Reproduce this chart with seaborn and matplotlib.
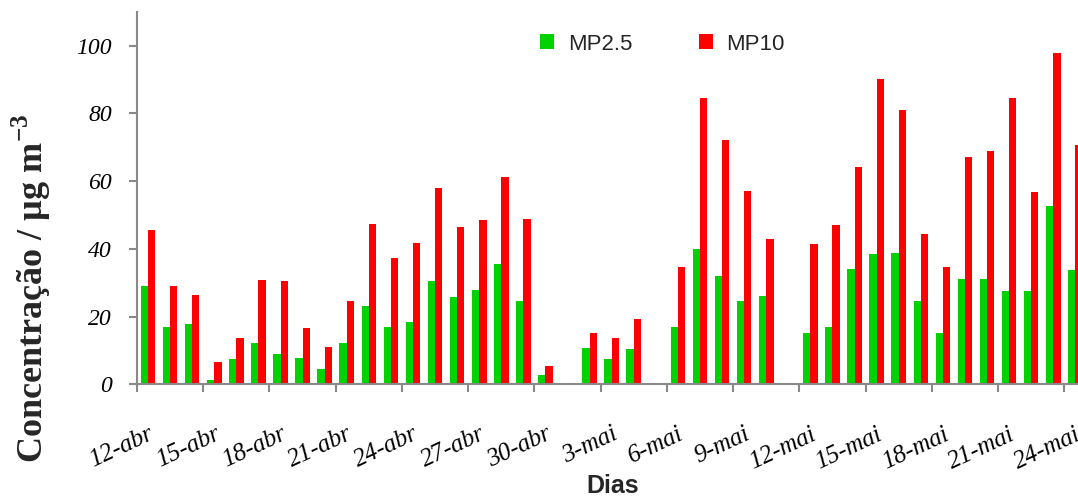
import numpy as np
import pandas as pd
import matplotlib
matplotlib.use("Agg")
import matplotlib.pyplot as plt
import seaborn as sns
from matplotlib.ticker import FixedLocator

# Days of the campaign (12 April to 24 May)
dias = [f"{d}-abr" for d in range(12, 31)] + [f"{d}-mai" for d in range(1, 25)]

nan = np.nan
# Daily particulate matter concentrations (µg m-3); NaN = no sample
mp25 = [29.0, 16.8, 17.8, 1.3, 7.5, 12.2, 9.0, 7.7, 4.4,
        12.1, 23.0, 16.8, 18.5, 30.5, 25.7, 27.8, 35.4, 24.7, 2.8,
        nan, 10.6, 7.5, 10.5, nan,
        16.9, 39.9, 32.0, 24.6, 26.0, nan,
        15.2, 16.8, 34.0, 38.4, 38.7, 24.6, 15.2, 31.0, 31.1, 27.6, 27.6, 52.7, 33.7]
mp10 = [45.6, 28.9, 26.4, 6.7, 13.7, 30.8, 30.5, 16.7, 11.0,
        24.7, 47.2, 37.3, 41.8, 58.1, 46.4, 48.6, 61.1, 48.7, 5.3,
        nan, 15.2, 13.7, 19.3, nan,
        34.7, 84.5, 72.1, 57.0, 42.8, nan,
        41.4, 47.0, 64.1, 90.1, 81.1, 44.5, 34.6, 67.2, 68.9, 84.5, 56.7, 97.9, 70.6]
series = ["MP2.5", "MP10"]
cores = {"MP2.5": "#00D200", "MP10": "#FF0000"}
y_ticks = [0, 20, 40, 60, 80, 100]

df = pd.DataFrame({
    "dia": dias * 2,
    "serie": [series[0]] * len(dias) + [series[1]] * len(dias),
    "valor": mp25 + mp10,
})

sns.set_theme(style="white")
plt.rcParams["font.family"] = ["Liberation Sans", "DejaVu Sans"]
plt.rcParams["mathtext.fontset"] = "custom"
plt.rcParams["mathtext.rm"] = "Liberation Serif:bold"
plt.rcParams["mathtext.bf"] = "Liberation Serif:bold"

fig = plt.figure(figsize=(10.78, 4.99), dpi=100)
ax = fig.add_axes([137 / 1078, 0.2299, 949.4 / 1078, 0.7465])

sns.barplot(data=df, x="dia", y="valor", hue="serie", order=dias,
            hue_order=series, palette=cores, width=0.66, errorbar=None,
            saturation=1, linewidth=0, ax=ax)

ax.set_xlim(-0.5, len(dias) - 0.5)
ax.set_ylim(0, 110)

axis_gray = "#898989"
for side in ["top", "right"]:
    ax.spines[side].set_visible(False)
for side in ["left", "bottom"]:
    ax.spines[side].set_color(axis_gray)
    ax.spines[side].set_linewidth(1.5)

# y axis
ax.set_yticks(y_ticks)
ax.set_yticklabels([str(v) for v in y_ticks], fontfamily="Liberation Serif",
                   fontstyle="italic", fontsize=17, color="black")
ax.tick_params(axis="y", left=True, length=6, width=1.5, color=axis_gray, pad=12)

# x axis: labels every third day, tick marks between categories
label_pos = list(range(0, len(dias), 3))
ax.set_xticks(label_pos)
ax.set_xticklabels([dias[i] for i in label_pos], fontfamily="Liberation Serif",
                   fontstyle="italic", fontsize=18, rotation=25,
                   ha="right", va="top", rotation_mode="anchor", color="black")
ax.tick_params(axis="x", which="major", length=0, pad=28)
ax.xaxis.set_minor_locator(FixedLocator([p - 0.5 for p in label_pos]))
ax.tick_params(axis="x", which="minor", bottom=True, length=6, width=1.5,
               color=axis_gray)

ax.set_xlabel("")
ax.set_ylabel("")

fig.text(613 / 1078, 1 - 486 / 499, "Dias", ha="center", va="center",
         fontsize=18, fontweight="bold", family="Liberation Sans")
fig.text(31 / 1078, 1 - 288 / 499, r"Concentração / µg m$^{-3}$",
         rotation=90, ha="center", va="center", fontsize=26,
         fontweight="bold", family="Liberation Serif")

handles, labels = ax.get_legend_handles_labels()
ax.legend(handles, labels, loc="center left", ncol=2, frameon=False,
          bbox_to_anchor=(540 / 1078, 1 - 44 / 499),
          bbox_transform=fig.transFigure, borderpad=0, borderaxespad=0,
          handlelength=0.65, handleheight=0.65, handletextpad=0.6,
          columnspacing=3.0, prop={"family": "Liberation Sans", "size": 16})

fig.savefig("out.png", dpi=100, facecolor="white")
